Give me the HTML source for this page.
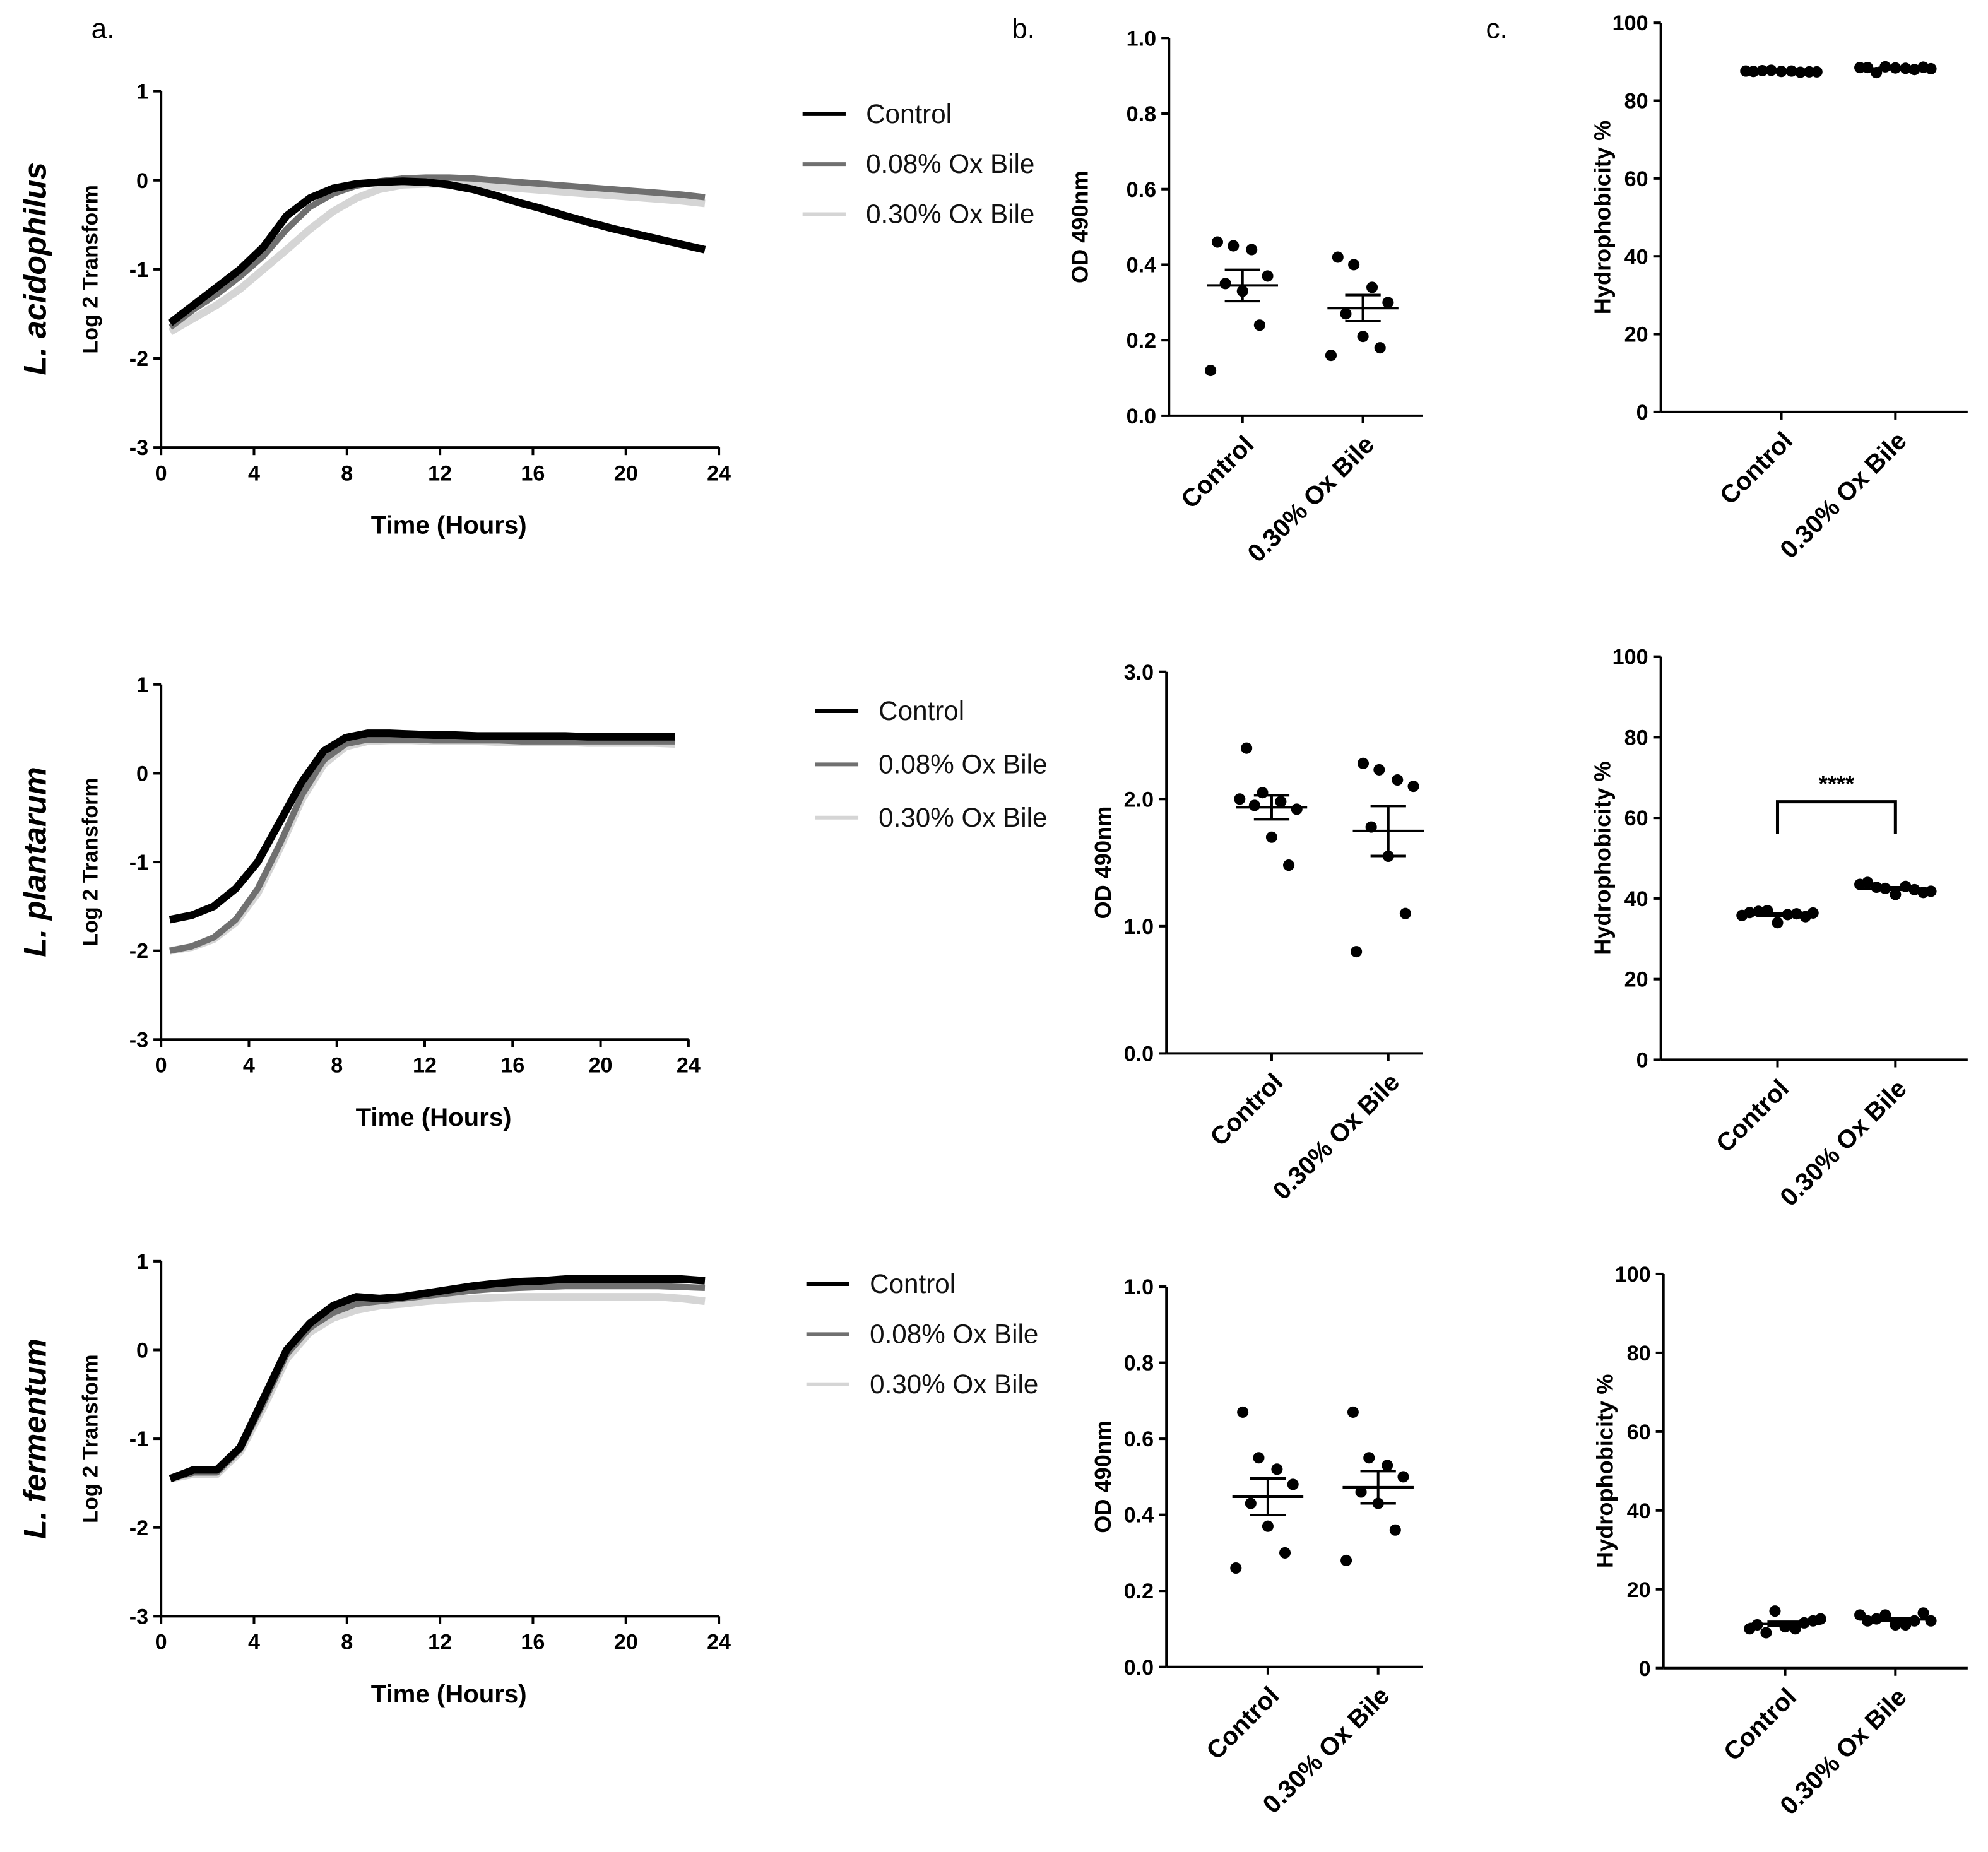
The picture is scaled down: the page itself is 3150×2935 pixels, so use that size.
<!DOCTYPE html>
<html><head><meta charset="utf-8"><style>
html,body{margin:0;padding:0;background:#fff}
svg{display:block}
text{font-family:"Liberation Sans",sans-serif}
</style></head><body>
<svg id="fig" width="3150" height="2935" viewBox="0 0 1568 1461" xmlns="http://www.w3.org/2000/svg">
<text x="72" y="30" font-size="22">a.</text>
<text x="798" y="30" font-size="22">b.</text>
<text x="1172" y="30" font-size="22">c.</text>
<text transform="translate(36,212) rotate(-90)" text-anchor="middle" font-size="25" font-weight="bold" font-style="italic">L. acidophilus</text>
<text transform="translate(36,680) rotate(-90)" text-anchor="middle" font-size="25" font-weight="bold" font-style="italic">L. plantarum</text>
<text transform="translate(36,1135) rotate(-90)" text-anchor="middle" font-size="25" font-weight="bold" font-style="italic">L. fermentum</text>
</svg>
<script>
// Growth curve data (hours, log2 transform)
const hours = [0,1,2,3,4,5,6,7,8,9,10,11,12,13,14,15,16,17,18,19,20,21,22,23];
const acidControl = [-1.6,-1.4,-1.2,-1.0,-0.75,-0.4,-0.2,-0.09,-0.04,-0.02,-0.01,-0.02,-0.05,-0.1,-0.17,-0.25,-0.32,-0.4,-0.47,-0.54,-0.6,-0.66,-0.72,-0.78];
const acid008 = [-1.65,-1.45,-1.28,-1.08,-0.85,-0.55,-0.3,-0.15,-0.06,-0.01,0.02,0.03,0.03,0.02,0.0,-0.02,-0.04,-0.06,-0.08,-0.1,-0.12,-0.14,-0.16,-0.19];
const acid030 = [-1.7,-1.55,-1.4,-1.22,-1.0,-0.78,-0.55,-0.35,-0.2,-0.1,-0.05,-0.04,-0.04,-0.05,-0.07,-0.09,-0.11,-0.13,-0.15,-0.17,-0.19,-0.21,-0.23,-0.26];
const plantControl = [-1.65,-1.6,-1.5,-1.3,-1.0,-0.55,-0.1,0.25,0.4,0.45,0.45,0.44,0.43,0.43,0.42,0.42,0.42,0.42,0.42,0.41,0.41,0.41,0.41,0.41];
const plant008 = [-2.0,-1.95,-1.85,-1.65,-1.3,-0.8,-0.25,0.15,0.33,0.38,0.38,0.38,0.37,0.37,0.37,0.37,0.36,0.36,0.36,0.36,0.36,0.36,0.36,0.36];
const plant030 = [-2.0,-1.96,-1.87,-1.68,-1.35,-0.85,-0.3,0.1,0.3,0.36,0.37,0.37,0.36,0.36,0.36,0.35,0.35,0.35,0.35,0.34,0.34,0.34,0.34,0.33];
const fermControl = [-1.45,-1.35,-1.35,-1.1,-0.55,0.0,0.3,0.5,0.6,0.58,0.6,0.64,0.68,0.72,0.75,0.77,0.78,0.8,0.8,0.8,0.8,0.8,0.8,0.78];
const ferm008 = [-1.45,-1.38,-1.38,-1.12,-0.6,-0.05,0.25,0.42,0.52,0.55,0.58,0.61,0.64,0.67,0.69,0.7,0.71,0.72,0.72,0.72,0.72,0.72,0.71,0.7];
const ferm030 = [-1.45,-1.4,-1.4,-1.15,-0.65,-0.1,0.2,0.36,0.45,0.5,0.52,0.55,0.57,0.58,0.59,0.6,0.6,0.6,0.6,0.6,0.6,0.6,0.58,0.55];
const xTicks = [0,4,8,12,16,20,24];
const yTicks = [1,0,-1,-2,-3];
const legendLabels = ["Control","0.08% Ox Bile","0.30% Ox Bile"];
// Dot plot data
const odAcidControl = [0.46,0.45,0.44,0.37,0.35,0.33,0.24,0.12];
const odAcidOx = [0.42,0.40,0.34,0.30,0.27,0.21,0.18,0.16];
const odPlantControl = [2.4,2.05,1.98,1.92,1.95,1.7,1.48,2.0];
const odPlantOx = [2.28,2.23,2.15,2.1,1.78,1.55,1.1,0.8];
const odFermControl = [0.67,0.55,0.52,0.48,0.43,0.37,0.30,0.26];
const odFermOx = [0.67,0.55,0.53,0.50,0.46,0.43,0.36,0.28];
const hAcidControl = [87.5,87.8,87.6,87.4,87.7,87.5,87.3,87.6,87.4];
const hAcidOx = [88.5,88.7,88.3,88.6,87.2,88.4,88.0,88.5,88.2];
const hPlantControl = [36.5,37,36,35.5,36.8,34,36.2,35.8,36.4];
const hPlantOx = [44,42.5,43,41.5,42.8,41,42.2,43.5,41.8];
const hFermControl = [11,14.5,10,12,9,10.5,11.5,10,12.5];
const hFermOx = [12,13.5,11,14,12.5,11,12,13.5,12];
const categories = ["Control","0.30% Ox Bile"];
const odTicks1 = [0,0.2,0.4,0.6,0.8,1.0];
const odTicks3 = [0,1,2,3];
const hTicks = [0,20,40,60,80,100];

const svg = document.getElementById('fig');
const NS = 'http://www.w3.org/2000/svg';
function mk(tag, attrs, parent){const e=document.createElementNS(NS,tag);for(const k in attrs)e.setAttribute(k,attrs[k]);(parent||svg).appendChild(e);return e;}

function growth(p, series, name){
  const g = mk('g',{});
  
  
  const sx = t => p.x0 + (t/24)*(p.x1-p.x0);
  const sy = v => p.yTop + ((1-v)/4)*(p.yBot-p.yTop);
  mk('line',{x1:p.x0,y1:p.yTop,x2:p.x0,y2:p.yBot,stroke:'#000','stroke-width':2},g);
  mk('line',{x1:p.x0,y1:p.yBot,x2:p.x1,y2:p.yBot,stroke:'#000','stroke-width':2},g);
  yTicks.forEach(v=>{mk('line',{x1:p.x0-6,y1:sy(v),x2:p.x0,y2:sy(v),stroke:'#000','stroke-width':2},g);
    const t=mk('text',{x:p.x0-10,y:sy(v)+6,'text-anchor':'end','font-size':17,'font-weight':'bold'},g);t.textContent=v;});
  xTicks.forEach(v=>{mk('line',{x1:sx(v),y1:p.yBot,x2:sx(v),y2:p.yBot+6,stroke:'#000','stroke-width':2},g);
    const t=mk('text',{x:sx(v),y:p.yBot+26,'text-anchor':'middle','font-size':17,'font-weight':'bold'},g);t.textContent=v;});
  const xl=mk('text',{x:(p.x0+p.x1)/2+7,y:p.yBot+68,'text-anchor':'middle','font-size':20,'font-weight':'bold'},g);xl.textContent='Time (Hours)';
  
  const yl=mk('text',{transform:`translate(${p.x0-50},${(p.yTop+p.yBot)/2}) rotate(-90)`,'text-anchor':'middle','font-size':17,'font-weight':'bold'},g);yl.textContent='Log 2 Transform';
  
  const cols=['#d5d5d5','#707070','#000'];const widths=[6,5,6];
  [2,1,0].forEach(i=>{
    const d = hours.map((h,j)=>(j?'L':'M')+sx(h+0.4).toFixed(1)+','+sy(series[i][j]).toFixed(1)).join(' ');
    const l=mk('path',{d:d,fill:'none',stroke:cols[2-i],'stroke-width':widths[i],'stroke-linejoin':'round'},g);
    
  });
  legendLabels.forEach((lab,i)=>{
    const y=p.ly+i*p.ld;
    mk('line',{x1:p.lx,y1:y,x2:p.lx+34,y2:y,stroke:['#000','#707070','#d5d5d5'][i],'stroke-width':3},g);
    const t=mk('text',{x:p.lx+50,y:y+7,'font-size':21,fill:'#111'},g);t.textContent=lab;
    
  });
}
growth({x0:127,x1:567,yTop:72,yBot:353,lx:633,ly:90,ld:39.5},[acidControl,acid008,acid030],'growth-acidophilus');
growth({x0:127,x1:543,yTop:540,yBot:820,lx:643,ly:561,ld:42},[plantControl,plant008,plant030],'growth-plantarum');
growth({x0:127,x1:567,yTop:995,yBot:1275,lx:636,ly:1013,ld:39.5},[fermControl,ferm008,ferm030],'growth-fermentum');

const jit=[-22,-8,8,22,-15,0,15,-28,28];
function dots(p, data, ticks, fmt, ylab, name, sig){
  const g = mk('g',{});
  
  
  const ymax=ticks[ticks.length-1];
  const sy=v=>p.yBot-(v/ymax)*(p.yBot-p.yTop);
  mk('line',{x1:p.x0,y1:p.yTop,x2:p.x0,y2:p.yBot,stroke:'#000','stroke-width':2},g);
  mk('line',{x1:p.x0,y1:p.yBot,x2:p.x1,y2:p.yBot,stroke:'#000','stroke-width':2},g);
  ticks.forEach(v=>{mk('line',{x1:p.x0-6,y1:sy(v),x2:p.x0,y2:sy(v),stroke:'#000','stroke-width':2},g);
    const t=mk('text',{x:p.x0-10,y:sy(v)+6,'text-anchor':'end','font-size':17,'font-weight':'bold'},g);t.textContent=fmt(v);});
  const yl=mk('text',{transform:`translate(${p.yl},${(p.yTop+p.yBot)/2}) rotate(-90)`,'text-anchor':'middle','font-size':18,'font-weight':'bold'},g);yl.textContent=ylab;
  
  data.forEach((arr,ci)=>{
    const cx=p.cx[ci];
    mk('line',{x1:cx,y1:p.yBot,x2:cx,y2:p.yBot+6,stroke:'#000','stroke-width':2},g);
    const t=mk('text',{transform:`translate(${cx+10},${p.yBot+24}) rotate(-45)`,'text-anchor':'end','font-size':20,'font-weight':'bold'},g);t.textContent=categories[ci];
    
    const n=arr.length, mean=arr.reduce((a,b)=>a+b,0)/n;
    const sd=Math.sqrt(arr.reduce((a,b)=>a+(b-mean)**2,0)/(n-1)), sem=sd/Math.sqrt(n);
    arr.forEach((v,i)=>{const c=mk('circle',{cx:cx+jit[i%jit.length]*p.jw,cy:sy(v),r:4.5,fill:'#000'},g);
      });
    mk('line',{x1:cx-28,y1:sy(mean),x2:cx+28,y2:sy(mean),stroke:'#000','stroke-width':2},g);
    mk('line',{x1:cx,y1:sy(mean-sem),x2:cx,y2:sy(mean+sem),stroke:'#000','stroke-width':2},g);
    [mean-sem,mean+sem].forEach(v=>mk('line',{x1:cx-14,y1:sy(v),x2:cx+14,y2:sy(v),stroke:'#000','stroke-width':2},g));
  });
  if(sig){
    const yb=sy(sig.y);
    mk('path',{d:`M${p.cx[0]},${sy(sig.y-8)} V${yb} H${p.cx[1]} V${sy(sig.y-8)}`,fill:'none',stroke:'#000','stroke-width':2.5},g);
    const t=mk('text',{x:(p.cx[0]+p.cx[1])/2,y:yb-8,'text-anchor':'middle','font-size':18,'font-weight':'bold'},g);t.textContent='****';
    
  }
}
const f1=v=>v.toFixed(1), f0=v=>String(v);
dots({x0:922,x1:1122,yTop:30,yBot:328,cx:[980,1075],yl:858,jw:0.9},[odAcidControl,odAcidOx],odTicks1,f1,'OD 490nm','od-acidophilus');
dots({x0:920,x1:1122,yTop:530,yBot:831,cx:[1003,1095],yl:876,jw:0.9},[odPlantControl,odPlantOx],odTicks3,f1,'OD 490nm','od-plantarum');
dots({x0:920,x1:1122,yTop:1015,yBot:1315,cx:[1000,1087],yl:876,jw:0.9},[odFermControl,odFermOx],odTicks1,f1,'OD 490nm','od-fermentum');
dots({x0:1310,x1:1552,yTop:18,yBot:325,cx:[1405,1495],yl:1270,jw:1},[hAcidControl,hAcidOx],hTicks,f0,'Hydrophobicity %','hydro-acidophilus');
dots({x0:1310,x1:1552,yTop:518,yBot:836,cx:[1402,1495],yl:1270,jw:1},[hPlantControl,hPlantOx],hTicks,f0,'Hydrophobicity %','hydro-plantarum',{y:64});
dots({x0:1312,x1:1552,yTop:1005,yBot:1316,cx:[1408,1495],yl:1272,jw:1},[hFermControl,hFermOx],hTicks,f0,'Hydrophobicity %','hydro-fermentum');
</script>
</body></html>
